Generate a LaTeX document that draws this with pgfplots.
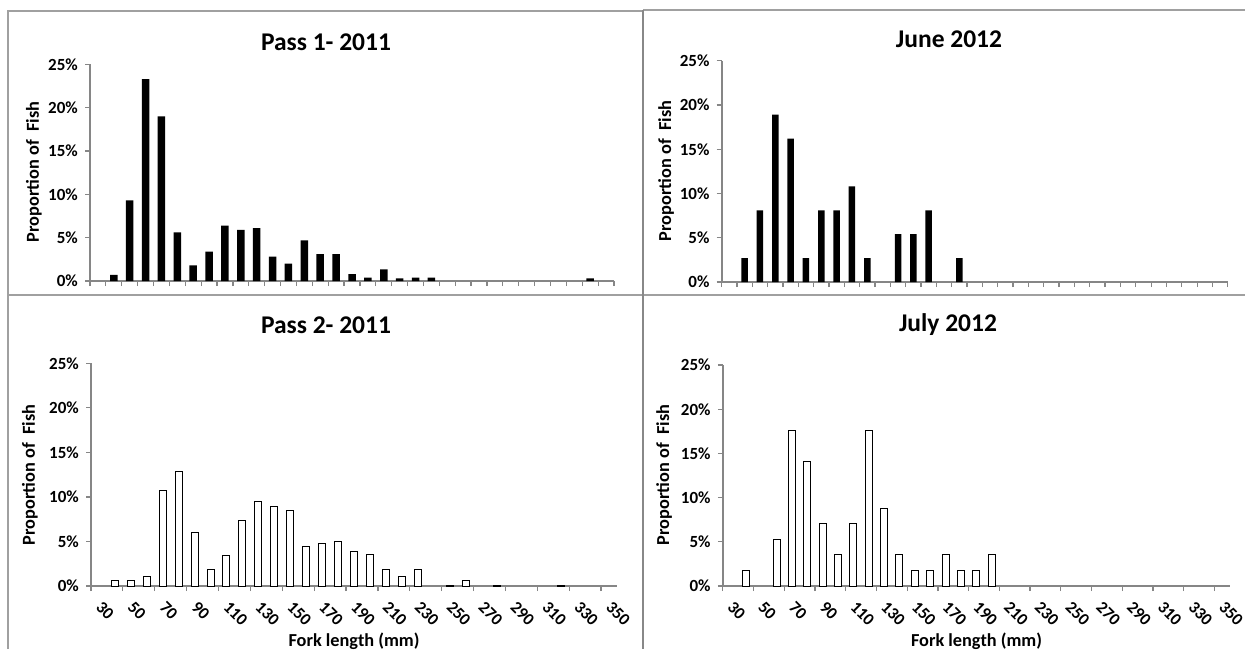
\documentclass[border=0pt]{standalone}
\usepackage{fontspec}
\setmainfont{Carlito}
\usepackage{pgfplots}
\pgfplotsset{compat=1.18}
\definecolor{axgray}{HTML}{868686}
\definecolor{framegray}{HTML}{A0A0A0}
\newcommand{\tickfont}{\fontsize{17}{20}\selectfont\bfseries}
\newcommand{\labfont}{\fontsize{18.3}{22}\selectfont\bfseries}
\newcommand{\titfont}{\fontsize{25.5}{30}\selectfont\bfseries}
\pgfplotsset{
  panel/.style={
    scale only axis,
    anchor=south west,
    axis lines*=left,
    xmin=25, xmax=355, ymin=0, ymax=25,
    ytick={0,5,...,25},
    yticklabels={0\%,5\%,10\%,15\%,20\%,25\%},
    tick align=outside,
    major tick length=5pt,
    axis line style={axgray, line width=1.8pt},
    tick style={axgray, line width=1.2pt},
    yticklabel style={font=\tickfont, inner sep=0pt, xshift=-7pt},
    ybar,
    clip=false,
  },
  toppanel/.style={panel,
    xtick={25,35,...,355},
    xticklabels={},
  },
  botpanel/.style={panel,
    xtick={25,45,...,345},
    xticklabels={},
    extra x ticks={30,50,...,350},
    extra x tick labels={30,50,70,90,110,130,150,170,190,210,230,250,270,290,310,330,350},
    extra x tick style={major tick length=0pt,
      tick label style={font=\tickfont, inner sep=0pt, xshift=4pt, yshift=-14pt, rotate=-45, anchor=north west}},
  },
}
\begin{document}
\begin{tikzpicture}
\useasboundingbox (0,0) rectangle (1245pt,-649pt);
% frames
\draw[framegray, line width=1.5pt] (8pt,-649pt) -- (8pt,-11pt) -- (643pt,-11pt);
\draw[framegray, line width=1.5pt] (643pt,-10pt) -- (1245pt,-10pt);
\draw[framegray, line width=1.5pt] (8pt,-295pt) -- (1245pt,-295pt);
\draw[framegray!85!black, line width=2.5pt] (643pt,-10pt) -- (643pt,-649pt);

% Pass 1 - 2011
\begin{axis}[toppanel, at={(90pt,-281pt)}, width=524pt, height=216.7pt]
\addplot[fill=black, draw=none, bar width=7.5pt] coordinates {
(40,0.7) (50,9.3) (60,23.3) (70,19.0) (80,5.6) (90,1.8) (100,3.4) (110,6.4)
(120,5.9) (130,6.1) (140,2.8) (150,2.0) (160,4.7) (170,3.1) (180,3.1)
(190,0.8) (200,0.4) (210,1.35) (220,0.3) (230,0.4) (240,0.4) (340,0.3)};
\end{axis}

% June 2012
\begin{axis}[toppanel, at={(721.6pt,-282pt)}, width=506.2pt, height=221.3pt]
\addplot[fill=black, draw=none, bar width=6.5pt] coordinates {
(40,2.7) (50,8.1) (60,18.9) (70,16.2) (80,2.7) (90,8.1) (100,8.1) (110,10.8)
(120,2.7) (140,5.4) (150,5.4) (160,8.1) (180,2.7)};
\end{axis}

% Pass 2 - 2011
\begin{axis}[botpanel, at={(91pt,-586pt)}, width=526pt, height=222.7pt]
\addplot[fill=white, draw=black, line width=1pt, bar width=7pt] coordinates {
(40,0.6) (50,0.6) (60,1.1) (70,10.75) (80,12.85) (90,6.05) (100,1.9) (110,3.4)
(120,7.3) (130,9.45) (140,8.95) (150,8.45) (160,4.4) (170,4.75) (180,5.05)
(190,3.85) (200,3.5) (210,1.9) (220,1.1) (230,1.9) (250,0.1) (260,0.6)
(280,0.1) (320,0.1)};
\end{axis}

% July 2012
\begin{axis}[botpanel, at={(722.8pt,-586pt)}, width=507pt, height=221pt]
\addplot[fill=white, draw=black, line width=1pt, bar width=7pt] coordinates {
(40,1.75) (60,5.26) (70,17.54) (80,14.04) (90,7.02) (100,3.51) (110,7.02)
(120,17.54) (130,8.77) (140,3.51) (150,1.75) (160,1.75) (170,3.51) (180,1.75)
(190,1.75) (200,3.51)};
\end{axis}

% titles and labels
\node[font=\titfont] at (326pt,-42pt) {Pass 1- 2011};
\node[font=\titfont] at (949pt,-39pt) {June 2012};
\node[font=\titfont] at (326pt,-325pt) {Pass 2- 2011};
\node[font=\titfont] at (948pt,-325pt) {July 2012};
\node[font=\labfont, rotate=90] at (34pt,-172pt) {Proportion of~ Fish};
\node[font=\labfont, rotate=90] at (666pt,-171pt) {Proportion of~ Fish};
\node[font=\labfont, rotate=90] at (30pt,-475pt) {Proportion of~ Fish};
\node[font=\labfont, rotate=90] at (664pt,-475pt) {Proportion of~ Fish};
\node[font=\labfont] at (354pt,-641pt) {Fork length (mm)};
\node[font=\labfont] at (976.5pt,-641pt) {Fork length (mm)};
\end{tikzpicture}
\end{document}
